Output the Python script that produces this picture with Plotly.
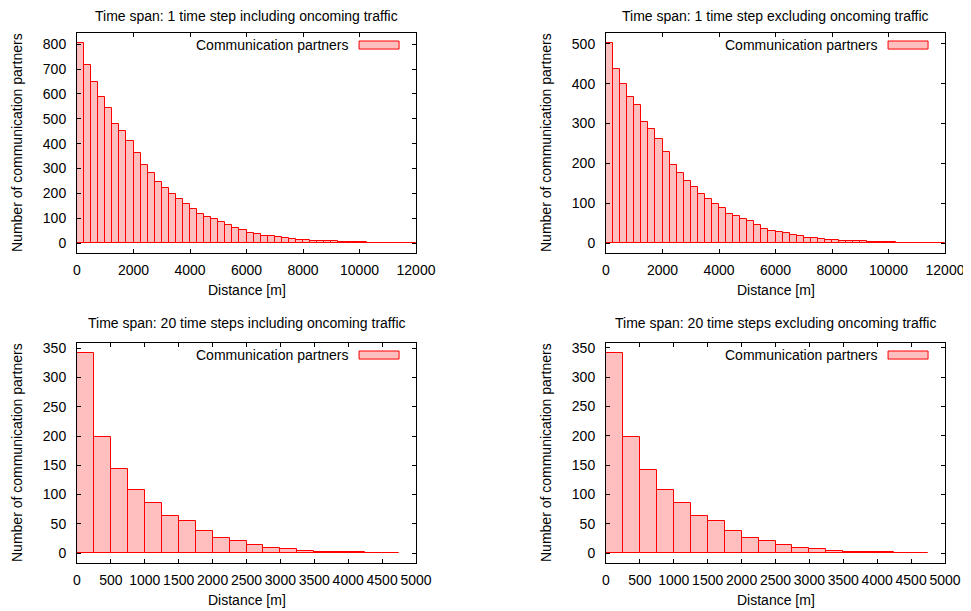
import plotly.graph_objects as go

# ---------------- data ----------------
BIN_WIDTH = 250

tl_values = [805, 715, 647, 588, 542, 481, 449, 409, 362, 312, 282, 247, 223, 199, 177, 156,
             138, 118, 105, 95, 84, 71, 60, 51, 42, 38, 30, 27, 23, 20, 16, 14,
             11, 10, 9, 8, 7, 5, 5, 4, 3, 2, 2, 1, 1, 1, 1, 1]
tr_values = [502, 437, 399, 367, 347, 304, 286, 261, 228, 195, 176, 155, 140, 124, 111, 99,
             89, 74, 67, 61, 55, 44, 36, 31, 27, 24, 19, 18, 13, 12, 10, 8,
             7, 6, 5, 5, 4, 3, 3, 2, 2, 1, 1, 1, 1, 1, 1, 1]
bl_values = [342, 198, 143, 108, 85, 63, 54, 38, 26, 20, 14, 9, 6, 4, 2.5, 1.5, 1, 0.5, 0.3]
br_values = [341, 197, 142, 107, 85, 63, 54, 38, 26, 20, 14, 9, 6, 4, 2.5, 1.5, 1, 0.5, 0.3]

tl_bins = list(range(0, BIN_WIDTH * len(tl_values), BIN_WIDTH))
tr_bins = list(range(0, BIN_WIDTH * len(tr_values), BIN_WIDTH))
bl_bins = list(range(0, BIN_WIDTH * len(bl_values), BIN_WIDTH))
br_bins = list(range(0, BIN_WIDTH * len(br_values), BIN_WIDTH))

titles = ["Time span: 1 time step including oncoming traffic",
          "Time span: 1 time step excluding oncoming traffic",
          "Time span: 20 time steps including oncoming traffic",
          "Time span: 20 time steps excluding oncoming traffic"]
x_label = "Distance [m]"
y_label = "Number of communication partners"
legend_label = "Communication partners"

x_ranges = [[0, 12000], [0, 12000], [0, 5000], [0, 5000]]
x_dticks = [2000, 2000, 500, 500]
y_dticks = [100, 100, 50, 50]

# ---------------- layout ----------------
# the page body has an 8 px margin, so the figure is drawn 8 px in from the window corner
OFF = 8
W, H = 971 - OFF, 611 - OFF
FONT = "Liberation Sans, Arial, Helvetica, sans-serif"
FILL = "rgba(255,0,0,0.25)"
EDGE = "#ff0000"

# pixel boxes of the four plot areas in window pixels: (left, right, top, bottom)
boxes_win = [(77, 416, 33, 253), (606, 945, 33, 253),
             (77, 416, 343, 563), (606, 945, 343, 563)]
boxes = [(l - OFF, r - OFF, t - OFF, b - OFF) for (l, r, t, b) in boxes_win]

panels = [(tl_bins, tl_values), (tr_bins, tr_values),
          (bl_bins, bl_values), (br_bins, br_values)]

fig = go.Figure()
annotations = []
shapes = []
layout = {}

for i, ((bins, vals), (l, r, t, b)) in enumerate(zip(panels, boxes)):
    n = i + 1
    xa = "x" if n == 1 else f"x{n}"
    ya = "y" if n == 1 else f"y{n}"
    fig.add_trace(go.Bar(x=bins, y=vals, width=BIN_WIDTH, offset=0,
                         marker=dict(color=FILL, line=dict(color=EDGE, width=1)),
                         xaxis=xa, yaxis=ya, showlegend=False,
                         name=legend_label))
    m = max(vals)
    xd = [l / W, r / W]
    yd = [1 - b / H, 1 - t / H]
    axis_common = dict(showline=True, linecolor="black", linewidth=1, mirror="ticks",
                       ticks="inside", ticklen=4, tickcolor="black", tickwidth=1,
                       showgrid=False, zeroline=False, automargin=False,
                       tickformat="d", tickangle=0,
                       tickfont=dict(family=FONT, size=14, color="black"))
    layout["xaxis" if n == 1 else f"xaxis{n}"] = dict(
        domain=xd, range=x_ranges[i], dtick=x_dticks[i], tick0=0,
        anchor=ya, ticklabelstandoff=4, **axis_common)
    layout["yaxis" if n == 1 else f"yaxis{n}"] = dict(
        domain=yd, range=[-0.05 * m, 1.05 * m], dtick=y_dticks[i], tick0=0,
        anchor=xa, ticklabelstandoff=7, **axis_common)

    cx = (l + r) / 2 / W
    # title (kept inside the figure's top edge)
    title_center = max(t - 20.5, 8.5)
    annotations.append(dict(text=titles[i], x=cx, y=1 - title_center / H, xref="paper", yref="paper",
                            showarrow=False, xanchor="center", yanchor="middle", borderpad=0,
                            font=dict(family=FONT, size=14, color="black")))
    # x label
    annotations.append(dict(text=x_label, x=cx, y=1 - (b + 37) / H, xref="paper", yref="paper",
                            showarrow=False, xanchor="center", yanchor="middle",
                            font=dict(family=FONT, size=14, color="black")))
    # y label
    annotations.append(dict(text=y_label, x=(l - 60) / W, y=1 - (t + b) / 2 / H,
                            xref="paper", yref="paper", textangle=-90,
                            showarrow=False, xanchor="center", yanchor="middle",
                            font=dict(family=FONT, size=14, color="black")))
    # legend (text left of sample box, gnuplot style)
    annotations.append(dict(text=legend_label, x=0.807, y=0.947,
                            xref=f"{xa} domain", yref=f"{ya} domain",
                            showarrow=False, xanchor="right", yanchor="middle",
                            font=dict(family=FONT, size=14, color="black")))
    shapes.append(dict(type="rect", xref=f"{xa} domain", yref=f"{ya} domain",
                       x0=0.832, x1=0.950, y0=0.927, y1=0.9636,
                       fillcolor=FILL, line=dict(color=EDGE, width=1)))

fig.update_layout(**layout)
fig.update_layout(width=W, height=H, margin=dict(l=0, r=0, t=0, b=0, autoexpand=False),
                  paper_bgcolor="white", plot_bgcolor="white",
                  annotations=annotations, shapes=shapes, bargap=0,
                  font=dict(family=FONT, size=14, color="black"))
fig.write_html("out.html")
